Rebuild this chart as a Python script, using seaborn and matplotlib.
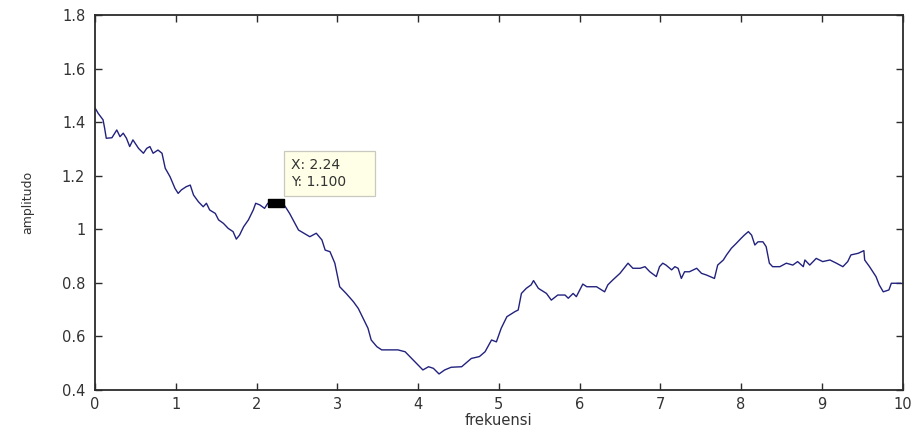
import matplotlib
matplotlib.use("Agg")
import matplotlib.pyplot as plt
import seaborn as sns
import pandas as pd

# Amplitude spectrum samples (frekuensi, amplitudo)
frekuensi = [
    0.00, 0.04, 0.10, 0.12, 0.14, 0.21, 0.27, 0.31, 0.35, 0.39, 0.43, 0.47,
    0.54, 0.60, 0.64, 0.68, 0.72, 0.78, 0.83, 0.87, 0.93, 0.99, 1.03, 1.07,
    1.13, 1.18, 1.22, 1.28, 1.34, 1.38, 1.42, 1.49, 1.53, 1.59, 1.65, 1.71,
    1.75, 1.79, 1.84, 1.90, 1.96, 1.99, 2.04, 2.10, 2.14, 2.24, 2.31, 2.37,
    2.41, 2.52, 2.66, 2.74, 2.81, 2.85, 2.91, 2.97, 3.03, 3.11, 3.20, 3.26,
    3.32, 3.38, 3.42, 3.49, 3.55, 3.75, 3.84, 3.94, 4.06, 4.13, 4.19, 4.26,
    4.33, 4.41, 4.54, 4.66, 4.76, 4.83, 4.91, 4.97, 5.03, 5.10, 5.20, 5.24,
    5.28, 5.34, 5.40, 5.43, 5.49, 5.59, 5.65, 5.73, 5.82, 5.86, 5.92, 5.96,
    6.04, 6.09, 6.21, 6.31, 6.35, 6.41, 6.50, 6.60, 6.66, 6.75, 6.81, 6.87,
    6.95, 6.99, 7.03, 7.07, 7.14, 7.18, 7.22, 7.26, 7.30, 7.36, 7.45, 7.51,
    7.57, 7.67, 7.71, 7.78, 7.82, 7.88, 7.94, 8.00, 8.04, 8.09, 8.13, 8.17,
    8.21, 8.27, 8.31, 8.35, 8.39, 8.48, 8.56, 8.64, 8.70, 8.77, 8.79, 8.85,
    8.93, 9.01, 9.10, 9.18, 9.26, 9.32, 9.36, 9.45, 9.52, 9.53, 9.59, 9.67,
    9.71, 9.76, 9.83, 9.86, 9.98,
]
amplitudo = [
    1.455, 1.434, 1.410, 1.378, 1.341, 1.343, 1.372, 1.347, 1.360, 1.341, 1.310, 1.335,
    1.303, 1.285, 1.303, 1.310, 1.285, 1.297, 1.285, 1.229, 1.197, 1.154, 1.135, 1.148,
    1.160, 1.166, 1.129, 1.104, 1.085, 1.098, 1.073, 1.060, 1.036, 1.023, 1.004, 0.992,
    0.964, 0.979, 1.010, 1.036, 1.073, 1.098, 1.092, 1.079, 1.098, 1.100, 1.106, 1.079,
    1.060, 0.998, 0.973, 0.986, 0.961, 0.923, 0.917, 0.874, 0.786, 0.761, 0.730, 0.705,
    0.668, 0.631, 0.587, 0.562, 0.550, 0.550, 0.543, 0.512, 0.475, 0.487, 0.481, 0.460,
    0.475, 0.485, 0.487, 0.518, 0.525, 0.543, 0.587, 0.580, 0.631, 0.674, 0.693, 0.699,
    0.761, 0.780, 0.793, 0.809, 0.780, 0.761, 0.736, 0.755, 0.755, 0.743, 0.761, 0.749,
    0.796, 0.786, 0.786, 0.767, 0.793, 0.811, 0.836, 0.874, 0.855, 0.855, 0.861, 0.842,
    0.824, 0.861, 0.874, 0.867, 0.849, 0.861, 0.855, 0.817, 0.842, 0.842, 0.855, 0.836,
    0.830, 0.817, 0.867, 0.886, 0.905, 0.930, 0.948, 0.967, 0.979, 0.992, 0.979, 0.942,
    0.954, 0.954, 0.936, 0.874, 0.861, 0.861, 0.874, 0.867, 0.880, 0.861, 0.886, 0.867,
    0.892, 0.880, 0.886, 0.874, 0.861, 0.880, 0.905, 0.911, 0.921, 0.886, 0.861, 0.824,
    0.793, 0.767, 0.774, 0.799, 0.799,
]

# Data cursor
tip_x = 2.24
tip_y = 1.100

x_ticks = [0, 1, 2, 3, 4, 5, 6, 7, 8, 9, 10]
y_ticks = [0.4, 0.6, 0.8, 1.0, 1.2, 1.4, 1.6, 1.8]
y_tick_labels = ["0.4", "0.6", "0.8", "1", "1.2", "1.4", "1.6", "1.8"]

sns.set_theme(style="white")
plt.rcParams["font.family"] = ["DejaVu Sans"]

fig = plt.figure(figsize=(9.22, 4.36), dpi=100)
ax = fig.add_axes([0.103, 0.1055, 0.876, 0.859])

df = pd.DataFrame({"frekuensi": frekuensi, "amplitudo": amplitudo})
sns.lineplot(data=df, x="frekuensi", y="amplitudo", ax=ax,
             color="#22227e", linewidth=1.0, estimator=None, sort=False)

ax.set_xlim(0, 10)
ax.set_ylim(0.4, 1.8)
ax.set_xticks(x_ticks)
ax.set_xticklabels([str(t) for t in x_ticks])
ax.set_yticks(y_ticks)
ax.set_yticklabels(y_tick_labels)

for side in ["left", "right", "top", "bottom"]:
    ax.spines[side].set_visible(True)
    ax.spines[side].set_color("#2b2b2b")
    ax.spines[side].set_linewidth(1.3)

ax.tick_params(axis="both", which="both", direction="in", length=5, width=1.0,
               colors="#2b2b2b", labelcolor="#333333", labelsize=10.5,
               top=True, right=True, bottom=True, left=True)
ax.tick_params(axis="x", pad=5)
ax.tick_params(axis="y", pad=7)

ax.set_xlabel("frekuensi", fontsize=10.5, color="#333333", labelpad=1)
ax.set_ylabel("amplitudo", fontsize=9, color="#333333", labelpad=20)

# Data cursor marker and its label box
rect_marker = [(-2, -1), (2, -1), (2, 1), (-2, 1), (-2, -1)]
ax.plot([tip_x], [tip_y], linestyle="none", marker=rect_marker,
        markersize=11, color="black", zorder=5)
tip_text = f"X: {tip_x:.2f}      \nY: {tip_y:.3f}     "
ax.annotate(tip_text, xy=(tip_x, tip_y),
            xytext=(10.8, 10.0), textcoords="offset points",
            ha="left", va="bottom", fontsize=10, color="#333333",
            linespacing=1.25,
            bbox=dict(boxstyle="square,pad=0.5", facecolor="#ffffe8",
                      edgecolor="#c9c9c0", linewidth=0.9),
            zorder=6)

fig.savefig("out.png", dpi=100, facecolor="white")
